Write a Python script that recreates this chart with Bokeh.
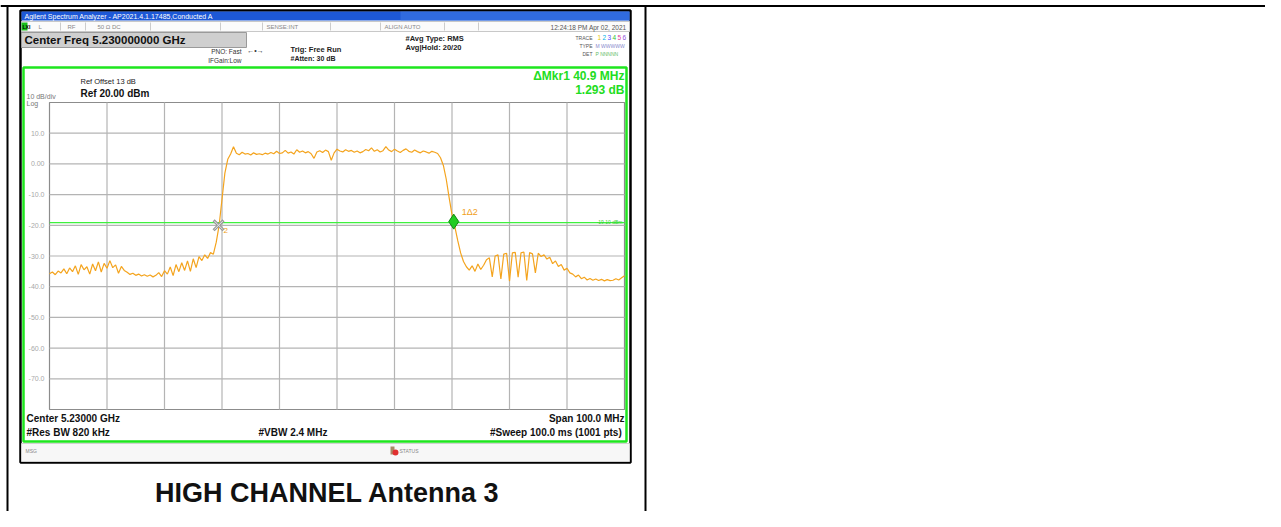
import numpy as np
from bokeh.plotting import figure
from bokeh.models import Range1d
from bokeh.core.properties import value
from bokeh.embed import file_html
from bokeh.resources import INLINE

# ---------------- data ----------------
start_freq_mhz = 5180.0
step_mhz = 0.5
trace_dbm = [
    -35.8, -35.2, -36.1, -34.9, -35.5, -34.2, -35.8, -33.9, -35.1, -33.2,
    -36.0, -32.8, -34.5, -33.5, -35.9, -32.6, -34.8, -31.9, -35.2, -32.4,
    -34.0, -31.5, -33.8, -32.9, -35.6, -33.4, -34.7, -35.3, -36.0, -35.6,
    -36.3, -35.9, -36.5, -36.1, -36.6, -36.2, -36.8, -36.3, -35.4, -36.7,
    -34.8,
    -35.9, -33.6, -36.4, -32.8, -35.1, -32.2, -34.7, -31.6, -35.0, -30.9,
    -33.8, -30.2, -31.5, -29.6, -30.8, -28.9, -29.4,
    -25.5, -20.0, -11.5, -3.0, 1.5, 3.2, 5.6,
    3.5, 3.0, 3.8, 3.2, 3.4, 2.9, 3.6, 3.1, 3.3, 3.0,
    3.5, 3.2, 3.7, 3.3, 4.1, 3.4, 3.6, 4.4, 3.5, 3.9,
    3.2, 4.6, 3.8, 4.2, 3.6, 4.0, 3.3, 1.8, 3.9, 4.3,
    3.7, 4.5, 4.0, 1.2, 3.6, 4.8, 4.2, 3.9, 4.6, 4.1,
    4.4, 3.8, 4.2, 3.6, 4.0, 4.7, 4.3, 5.2, 4.1, 4.6,
    3.9, 4.3, 5.6, 4.5, 4.0, 4.8, 4.2, 3.7, 4.4, 4.9,
    4.1, 3.8, 4.5, 4.0, 3.6, 4.2, 3.9, 3.5, 4.1, 3.8, 3.4,
    2.0, -0.5, -5.0, -11.0, -16.5, -20.5, -25.0, -29.0, -31.8, -33.5, -34.6,
    -33.2, -35.0, -32.6, -34.4, -33.0, -31.2, -30.6, -36.8, -30.0, -29.6,
    -37.5, -29.4, -29.1, -38.2, -29.0, -28.8, -36.9, -29.0, -28.7, -38.0,
    -28.9, -29.3, -35.5, -29.1, -30.2, -29.6, -31.0, -30.4, -32.5, -31.6,
    -33.4, -32.8, -34.6, -34.0, -35.5, -35.9, -36.8, -36.2, -37.4, -36.9,
    -37.8, -37.3, -37.9, -37.5, -38.0, -37.6, -38.1, -37.7, -38.0,
    -37.9, -37.4, -37.8, -37.1, -36.4,
]
x_grid_mhz = [5180, 5190, 5200, 5210, 5220, 5230, 5240, 5250, 5260, 5270, 5280]
y_grid_dbm = [20, 10, 0, -10, -20, -30, -40, -50, -60, -70, -80]
y_label_dbm = [10, 0, -10, -20, -30, -40, -50, -60, -70]
y_labels = ["10.0", "0.00", "-10.0", "-20.0", "-30.0", "-40.0", "-50.0", "-60.0", "-70.0"]
marker_freq_mhz = [5209.4, 5250.3]
marker_level_dbm = [-20.0, -18.8]
display_line_dbm = -19.1

freqs = [start_freq_mhz + step_mhz * i for i in range(len(trace_dbm))]

# ---------------- geometry (picture pixels) ----------------
W, H = 1265, 511
PX0, PX1 = 0, W
PY0, PY1 = 0, H
GX0, GX1 = 49, 624     # grid left/right
GY0, GY1 = 102, 409    # grid top/bottom
fpp = (x_grid_mhz[-1] - x_grid_mhz[0]) / (GX1 - GX0)
dpp = (y_grid_dbm[0] - y_grid_dbm[-1]) / (GY1 - GY0)
f_start = x_grid_mhz[0] - (GX0 - PX0) * fpp
f_end = x_grid_mhz[0] + (PX1 - GX0) * fpp
d_top = y_grid_dbm[0] + (GY0 - PY0) * dpp
d_bot = y_grid_dbm[-1] - (PY1 - GY1) * dpp

p = figure(width=W, height=H, x_range=Range1d(PX0, PX1), y_range=Range1d(PY1, PY0),
           output_backend="svg", toolbar_location=None, min_border=0,
           x_axis_type=None, y_axis_type=None, outline_line_color=None,
           background_fill_color="white", border_fill_color="white")
p.extra_x_ranges = {"freq": Range1d(f_start, f_end)}
p.extra_y_ranges = {"db": Range1d(d_bot, d_top)}

FONT = value("Liberation Sans")


def txt(x, y, s, size=7, color="#333333", bold=False, align="left", baseline="middle"):
    p.text(x=[x], y=[y], text=[s], text_font=FONT, text_font_size=f"{size}px",
           text_color=color, text_font_style="bold" if bold else "normal",
           text_align=align, text_baseline=baseline)


# ---------------- table lines ----------------
p.segment(x0=[0, 7, 645], y0=[5.5, 5, 5], x1=[W, 7, 645], y1=[5.5, H, H],
          line_color="black", line_width=2)

# ---------------- screenshot frame ----------------
p.quad(left=[20], right=[630], top=[10], bottom=[462], fill_color="white",
       line_color="black", line_width=2.5)
# title bar
p.quad(left=[21], right=[629], top=[11], bottom=[20], fill_color="#1d58d6", line_color=None)
p.quad(left=[400], right=[629], top=[11], bottom=[20], fill_color="#3d78e6", line_color=None, fill_alpha=0.6)
txt(24, 15.5, "Agilent Spectrum Analyzer - AP2021.4.1.17485,Conducted A", size=7, color="white")
# status row
p.quad(left=[21], right=[629], top=[21], bottom=[31], fill_color="#fbfbfb", line_color="#c8c8c8", line_width=1)
p.quad(left=[21], right=[27], top=[22], bottom=[30], fill_color="#19c019", line_color=None)
txt(22, 26.5, "LXI", size=5, color="black", bold=True)
for sx in [60, 85, 150, 220, 262, 330, 380, 444, 478]:
    p.segment(x0=[sx], y0=[22], x1=[sx], y1=[30], line_color="#cccccc", line_width=1)
txt(38, 26.5, "L", size=6, color="#888888")
txt(67, 26.5, "RF", size=6, color="#888888")
txt(97, 26.5, "50 Ω   DC", size=6, color="#888888")
txt(266, 26.5, "SENSE:INT", size=6, color="#888888")
txt(384, 26.5, "ALIGN AUTO", size=6, color="#888888")
txt(626, 26.5, "12:24:18 PM Apr 02, 2021", size=6.5, color="#555555", align="right")
# center freq box
p.quad(left=[21], right=[246], top=[32], bottom=[47], fill_color="#cfcfcf", line_color="#9a9a9a", line_width=1)
txt(24, 39.5, "Center Freq 5.230000000 GHz", size=11.5, color="#111111", bold=True)
txt(241, 51, "PNO: Fast", size=6.5, color="#333333", align="right")
txt(241, 60, "IFGain:Low", size=6.5, color="#333333", align="right")
txt(255, 50, "←•→", size=7, color="#333333", align="center")
txt(290, 48.5, "Trig: Free Run", size=7.5, color="#222222", bold=True)
txt(290, 58, "#Atten: 30 dB", size=7, color="#222222", bold=True)
txt(405, 37.5, "#Avg Type: RMS", size=7.5, color="#222222", bold=True)
txt(405, 47, "Avg|Hold: 20/20", size=7.5, color="#222222", bold=True)
txt(592, 37, "TRACE", size=5, color="#555555", align="right")
trace_cols = ["#e8c800", "#00b4e6", "#5050ff", "#30c030", "#e040a0", "#9050e0"]
for k, c in enumerate(trace_cols):
    txt(597 + k * 5, 37, str(k + 1), size=6.5, color=c)
txt(592, 45, "TYPE", size=5, color="#555555", align="right")
txt(595, 45, "M WWWWW", size=5, color="#8888cc")
txt(592, 53, "DET", size=5, color="#555555", align="right")
txt(595, 53, "P NNNNN", size=5, color="#66bb66")

# ---------------- green measurement frame ----------------
p.quad(left=[23], right=[626], top=[67], bottom=[441], fill_color="white",
       line_color="#1ee61e", line_width=2.5)
txt(624, 75, "ΔMkr1 40.9 MHz", size=12, color="#22dd22", bold=True, align="right")
txt(624, 89, "1.293 dB", size=12, color="#22dd22", bold=True, align="right")
txt(80, 81, "Ref Offset 13 dB", size=7.5, color="#222222")
txt(80, 93, "Ref 20.00 dBm", size=10, color="#111111", bold=True)
txt(26, 95.5, "10 dB/div", size=7, color="#777777")
txt(26, 102.5, "Log", size=7, color="#777777")

# plot area and grid (through frequency / dB scales)
p.quad(left=[x_grid_mhz[0]], right=[x_grid_mhz[-1]], top=[y_grid_dbm[0]], bottom=[y_grid_dbm[-1]],
       fill_color="white", line_color="#8c8c8c", line_width=1.2,
       x_range_name="freq", y_range_name="db")
p.segment(x0=x_grid_mhz[1:-1], y0=[y_grid_dbm[-1]] * (len(x_grid_mhz) - 2),
          x1=x_grid_mhz[1:-1], y1=[y_grid_dbm[0]] * (len(x_grid_mhz) - 2),
          line_color="#b4b4b4", line_width=1.2, x_range_name="freq", y_range_name="db")
p.segment(x0=[x_grid_mhz[0]] * (len(y_grid_dbm) - 2), y0=y_grid_dbm[1:-1],
          x1=[x_grid_mhz[-1]] * (len(y_grid_dbm) - 2), y1=y_grid_dbm[1:-1],
          line_color="#b4b4b4", line_width=1.2, x_range_name="freq", y_range_name="db")
p.text(x=[44] * len(y_label_dbm), y=y_label_dbm, text=y_labels, text_font=FONT,
       text_font_size="7px", text_color="#a8a8a8", text_align="right",
       text_baseline="middle", y_range_name="db")

# display line
p.segment(x0=[x_grid_mhz[0]], y0=[display_line_dbm], x1=[x_grid_mhz[-1]], y1=[display_line_dbm],
          line_color="#3ef03e", line_width=1.2, x_range_name="freq", y_range_name="db")
p.text(x=[x_grid_mhz[-1]], y=[display_line_dbm], text=["-19.10 dBm"], text_font=FONT,
       text_font_size="5px", text_color="#33cc33", text_align="right", text_baseline="bottom",
       x_offset=-2, y_offset=2, x_range_name="freq", y_range_name="db")

# trace
p.line(freqs, trace_dbm, line_color="#f4a41e", line_width=1.2,
       x_range_name="freq", y_range_name="db")

# markers
p.scatter(x=[marker_freq_mhz[0]], y=[marker_level_dbm[0]], marker="x", size=14,
          line_color="#9a9a9a", line_width=3, x_range_name="freq", y_range_name="db")
p.scatter(x=[marker_freq_mhz[0]], y=[marker_level_dbm[0]], marker="x", size=12,
          line_color="#e8e8e8", line_width=1, x_range_name="freq", y_range_name="db")
p.text(x=[marker_freq_mhz[0]], y=[marker_level_dbm[0]], text=["2"], text_font=FONT,
       text_font_size="8px", text_color="#f0a020", x_offset=5, y_offset=5,
       text_baseline="middle", x_range_name="freq", y_range_name="db")
p.scatter(x=[marker_freq_mhz[1]], y=[marker_level_dbm[1]], marker="diamond", size=15,
          fill_color="#22cc22", line_color="#118811", line_width=1,
          x_range_name="freq", y_range_name="db")
p.text(x=[marker_freq_mhz[1]], y=[marker_level_dbm[1]], text=["1Δ2"], text_font=FONT,
       text_font_size="9px", text_color="#f0a020", x_offset=8, y_offset=-10,
       text_baseline="middle", x_range_name="freq", y_range_name="db")

# bottom annotations
txt(26, 418, "Center 5.23000 GHz", size=10, color="#111111", bold=True)
txt(26, 432, "#Res BW 820 kHz", size=10, color="#111111", bold=True)
txt(258, 432, "#VBW 2.4 MHz", size=10, color="#111111", bold=True)
txt(624, 418, "Span 100.0 MHz", size=10, color="#111111", bold=True, align="right")
txt(624, 432, "#Sweep  100.0 ms (1001 pts)", size=10, color="#111111", bold=True, align="right")

# message row
p.quad(left=[21], right=[629], top=[443], bottom=[461], fill_color="#f7f7f7", line_color="#d0d0d0", line_width=1)
txt(25, 450, "MSG", size=5, color="#888888")
p.quad(left=[390], right=[394], top=[446], bottom=[454], fill_color="#aa8866", line_color=None)
p.scatter(x=[395], y=[452], marker="circle", size=6, fill_color="#e03030", line_color=None)
txt(399, 450, "STATUS", size=5, color="#888888")

# caption
txt(327, 492, "HIGH CHANNEL Antenna 3", size=27, color="#111111", bold=True, align="center",
    baseline="middle")

open("out.html", "w").write(file_html(p, INLINE))
